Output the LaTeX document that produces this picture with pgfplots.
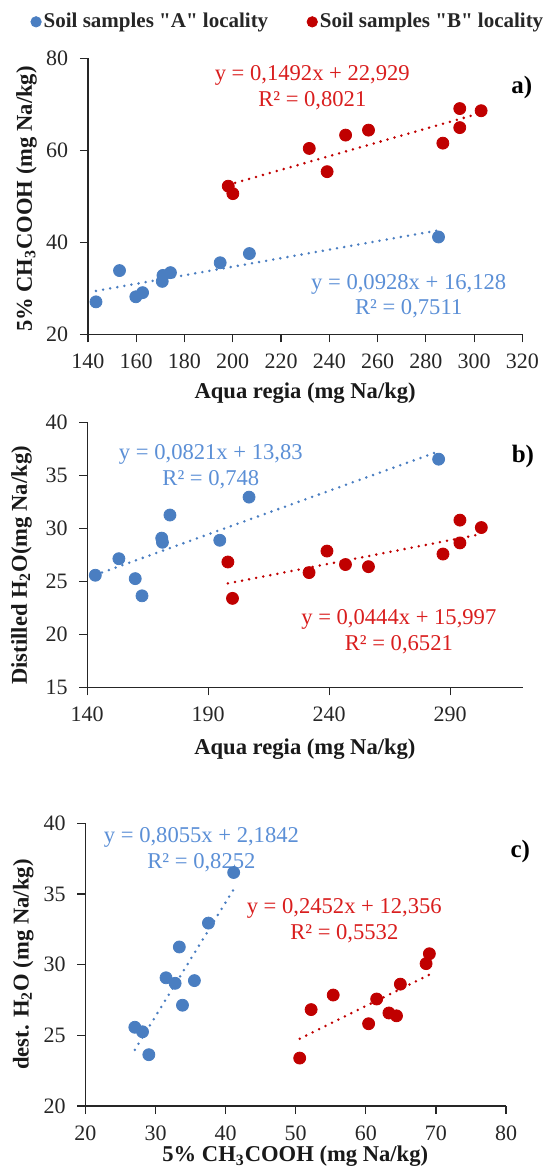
\documentclass[border=0pt]{standalone}
\usepackage{fontspec}
\setmainfont{Liberation Serif}
\usepackage{pgfplots}
\usepackage{pgfplotstable}
\pgfplotsset{compat=1.18}
\definecolor{ptblue}{HTML}{4A7EC1}
\definecolor{ptred}{HTML}{C00000}
\definecolor{txblue}{HTML}{5B8FD6}
\definecolor{txred}{HTML}{D91E1E}
\definecolor{axgray}{HTML}{262626}

\pgfplotstableread{
AR     CH3    H2O
143.35 27.05  25.57
153.1  33.85  27.13
159.85 28.15  25.25
162.65 29.05  23.63
170.8  31.5   29.07
171.1  32.8   28.68
174.2  33.4   31.25
194.8  35.55  28.87
206.9  37.55  32.94
285.25 41.15  36.52
}\dataA

\pgfplotstableread{
AR     CH3    H2O
198.15 52.2   26.82
200.05 50.57  23.39
231.7  60.4   25.82
239.1  55.35  27.85
246.75 63.3   26.58
256.25 64.38  26.38
287.05 61.55  27.57
294.05 69.07  30.77
294.05 64.93  28.62
302.9  68.6   30.07
}\dataB

\tikzset{
  eqfont/.style={font=\fontsize{11.3}{12.8}\selectfont, align=center},
  panfont/.style={font=\bfseries\fontsize{12.5}{14}\selectfont},
}

\pgfplotsset{
  myaxis/.style={
    scale only axis,
    anchor=south west,
    axis x line=bottom, axis y line=left,
    axis line style={-, line width=0.6pt, axgray},
    tick style={line width=0.6pt, axgray},
    tick align=outside,
    major tick length=4pt,
    /pgf/number format/assume math mode=true,
    ticklabel style={font=\fontsize{11}{13}\selectfont, text=axgray},
    xticklabel style={yshift=-2.3pt},
    yticklabel style={xshift=-2.3pt},
    label style={font=\bfseries\fontsize{11.3}{13}\selectfont, text=black!90},
    clip=false,
  },
  ptA/.style={only marks, mark=*, mark size=3pt, mark options={draw=ptblue, fill=ptblue}},
  ptB/.style={only marks, mark=*, mark size=3pt, mark options={draw=ptred, fill=ptred}},
  trA/.style={ptblue, line width=1.4pt, line cap=round, dash pattern=on 0pt off 3.6pt, no marks, forget plot},
  trB/.style={ptred, line width=1.4pt, line cap=round, dash pattern=on 0pt off 3.6pt, no marks, forget plot},
}

\begin{document}
\begin{tikzpicture}
\useasboundingbox (0,0) rectangle (279pt,585pt);

% ---------- panel a ----------
\begin{axis}[myaxis,
  at={(43.95pt,417.85pt)}, width=217.25pt, height=138pt,
  xmin=140, xmax=320, ymin=20, ymax=80,
  xtick={140,160,...,320}, ytick={20,40,60,80},
  xlabel={Aqua regia (mg Na/kg)},
  ylabel={5\% CH\textsubscript{3}COOH (mg Na/kg)},
  xlabel style={at={(axis description cs:0.5,-0.214)}, anchor=center},
  ylabel style={at={(axis description cs:-0.141,0.49)}, anchor=center},
  legend columns=2,
  legend style={at={(axis description cs:-0.134,1.132)}, anchor=west,
    draw=none, fill=none, font=\bfseries\fontsize{10.5}{13}\selectfont, text=black!85,
    inner xsep=0pt, inner ysep=0pt, column sep=0pt,
    nodes={inner sep=0pt},
    /tikz/every even column/.append style={column sep=19pt}},
  legend image code/.code={\path[draw=none, fill=none] (0pt,0pt) -- (6.8pt,0pt);
    \draw[#1, mark size=2.6pt] plot coordinates {(3pt,0pt)};},
]
\addplot[ptA] table[x=AR, y=CH3] {\dataA};
\addlegendentry{Soil samples \textquotedbl A\textquotedbl{} locality}
\addplot[ptB] table[x=AR, y=CH3] {\dataB};
\addlegendentry{Soil samples \textquotedbl B\textquotedbl{} locality}
\addplot[trA] coordinates {(143.35,29.43) (285.25,42.60)};
\addplot[trB] coordinates {(198.15,52.49) (302.9,68.12)};
\node[eqfont, text=txred] at (axis cs:232.96,73.65) {y = 0,1492x + 22,929\\R² = 0,8021};
\node[eqfont, text=txblue] at (axis cs:272.9,28.28) {y = 0,0928x + 16,128\\R² = 0,7511};
\node[panfont] at (axis cs:319.7,73.7) {a)};
\end{axis}

% ---------- panel b ----------
\begin{axis}[myaxis,
  at={(43.6pt,241.35pt)}, width=217.75pt, height=132.5pt,
  xmin=140, xmax=320, ymin=15, ymax=40,
  xtick={140,190,240,290}, ytick={15,20,...,40},
  xlabel={Aqua regia (mg Na/kg)},
  ylabel={Distilled H\textsubscript{2}O(mg Na/kg)},
  xlabel style={at={(axis description cs:0.5,-0.234)}, anchor=center},
  ylabel style={at={(axis description cs:-0.151,0.46)}, anchor=center},
]
\addplot[ptA] table[x=AR, y=H2O] {\dataA};
\addplot[ptB] table[x=AR, y=H2O] {\dataB};
\addplot[trA] coordinates {(143.35,25.60) (285.25,37.25)};
\addplot[trB] coordinates {(198.15,24.80) (302.9,29.45)};
\node[eqfont, text=txblue] at (axis cs:191.1,35.81) {y = 0,0821x + 13,83\\R² = 0,748};
\node[eqfont, text=txred] at (axis cs:268.8,20.22) {y = 0,0444x + 15,997\\R² = 0,6521};
\node[panfont] at (axis cs:320.1,36.82) {b)};
\end{axis}

% ---------- panel c ----------
\begin{axis}[myaxis,
  at={(42.7pt,32pt)}, width=210.3pt, height=141.35pt,
  xmin=20, xmax=80, ymin=20, ymax=40,
  xtick={20,30,...,80}, ytick={20,25,...,40},
  xlabel={5\% CH\textsubscript{3}COOH (mg Na/kg)},
  ylabel={dest. H\textsubscript{2}O (mg Na/kg)},
  xlabel style={at={(axis description cs:0.499,-0.179)}, anchor=center},
  ylabel style={at={(axis description cs:-0.148,0.5)}, anchor=center},
]
\addplot[ptA] table[x=CH3, y=H2O] {\dataA};
\addplot[ptB] table[x=CH3, y=H2O] {\dataB};
\addplot[trA] coordinates {(27.05,23.97) (41.15,35.33)};
\addplot[trB] coordinates {(50.57,24.76) (69.07,29.29)};
\node[eqfont, text=txblue] at (axis cs:36.55,38.15) {y = 0,8055x + 2,1842\\R² = 0,8252};
\node[eqfont, text=txred] at (axis cs:56.93,33.12) {y = 0,2452x + 12,356\\R² = 0,5532};
\node[panfont] at (axis cs:82.04,37.99) {c)};
\end{axis}
\end{tikzpicture}
\end{document}
